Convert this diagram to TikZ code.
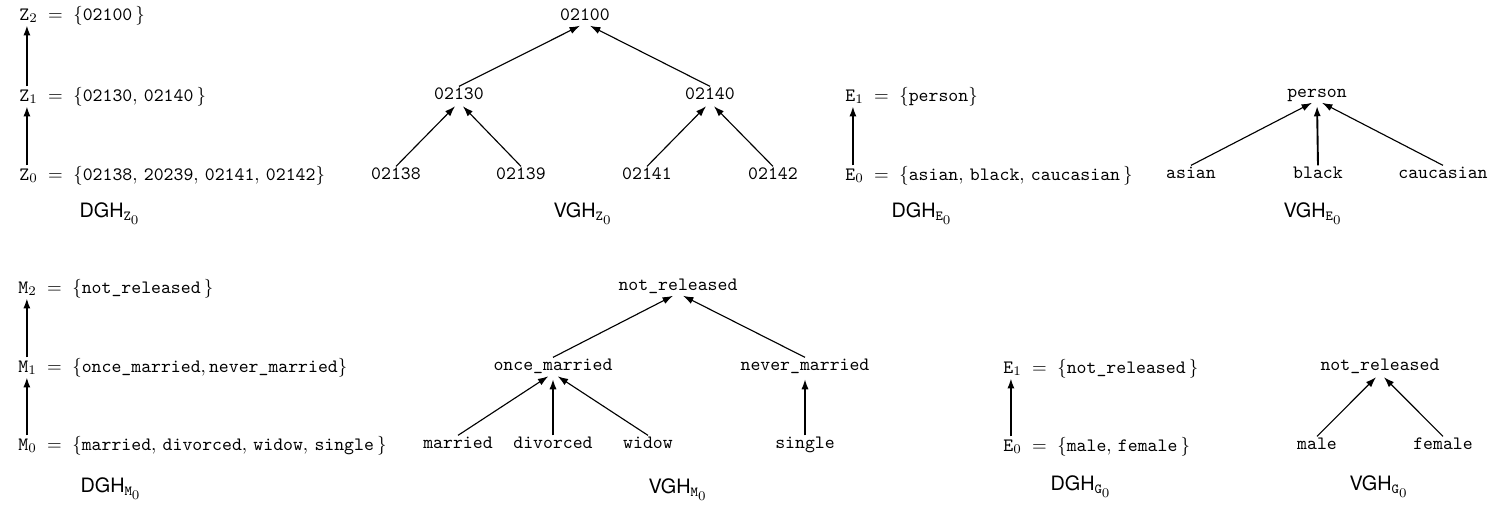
\documentclass[tikz,border=0pt]{standalone}
\usepackage{fontspec}
\setsansfont{TeX Gyre Heros}
\usetikzlibrary{arrows.meta}
\newcommand{\capsub}[2]{\textsf{#1}$_{\mathtt{#2}_{\scriptstyle 0}}$}
\begin{document}
\begin{tikzpicture}[x=0.53pt,y=-0.53pt,
  eqn/.style={inner sep=0pt,anchor=base west},
  tnode/.style={inner sep=0pt,text height=6.5pt,text depth=1.5pt,anchor=base,font=\ttfamily},
  captxt/.style={inner sep=0pt,anchor=base,font=\fontsize{10.5}{12}\selectfont},
  varrow/.style={-{Latex[length=5.5pt,width=3.8pt]},line width=1pt},
  tarrow/.style={-{Latex[length=5.5pt,width=3.8pt]},line width=0.6pt,shorten >=3pt},
  tvarrow/.style={tarrow,line width=1pt},
]
\useasboundingbox (0,0) rectangle (1496,512);

% ---------- DGH Z0 ----------
\node[eqn] (z2) at (19,20)  {$\mathtt{Z}_2\;=\;\{\texttt{02100}\,\}$};
\node[eqn] (z1) at (19,101) {$\mathtt{Z}_1\;=\;\{\texttt{02130},\,\texttt{02140}\,\}$};
\node[eqn] (z0) at (19,180) {$\mathtt{Z}_0\;=\;\{\texttt{02138},\,\texttt{20239},\,\texttt{02141},\,\texttt{02142}\}$};
\node[captxt] (dghz) at (110,217) {\capsub{DGH}{Z}};
\draw[varrow] ([xshift=4.2pt]z0.north west) -- ([xshift=4.2pt]z1.south west);
\draw[varrow] ([xshift=4.2pt]z1.north west) -- ([xshift=4.2pt]z2.south west);

% ---------- VGH Z0 ----------
\node[tnode] (r)    at (585,20)  {02100};
\node[tnode] (a130) at (459,99)  {02130};
\node[tnode] (a140) at (710,99)  {02140};
\node[tnode] (a138) at (396,179) {02138};
\node[tnode] (a139) at (521,179) {02139};
\node[tnode] (a141) at (647,179) {02141};
\node[tnode] (a142) at (773,179) {02142};
\node[captxt] (vghz) at (583,217) {\capsub{VGH}{Z}};
\draw[tarrow] (a130.north) -- (r.south);
\draw[tarrow] (a140.north) -- (r.south);
\draw[tarrow] (a138.north) -- (a130.south);
\draw[tarrow] (a139.north) -- (a130.south);
\draw[tarrow] (a141.north) -- (a140.south);
\draw[tarrow] (a142.north) -- (a140.south);

% ---------- DGH E0 ----------
\node[eqn] (e1) at (845,101) {$\mathtt{E}_1\;=\;\{\texttt{person}\}$};
\node[eqn] (e0) at (845,180) {$\mathtt{E}_0\;=\;\{\texttt{asian},\,\texttt{black},\,\texttt{caucasian}\,\}$};
\node[captxt] (dghe) at (922,217) {\capsub{DGH}{E}};
\draw[varrow] ([xshift=4.2pt]e0.north west) -- ([xshift=4.2pt]e1.south west);

% ---------- VGH E0 ----------
\node[tnode] (person) at (1317,97)  {person};
\node[tnode] (asian)  at (1191,178) {asian};
\node[tnode] (black)  at (1318,178) {black};
\node[tnode] (cauc)   at (1443,178) {caucasian};
\node[captxt] (vghe) at (1313,217) {\capsub{VGH}{E}};
\draw[tarrow]  (asian.north) -- (person.south);
\draw[tvarrow] (black.north) -- (person.south);
\draw[tarrow]  (cauc.north)  -- (person.south);

% ---------- DGH M0 ----------
\node[eqn] (m2) at (18,293) {$\mathtt{M}_2\;=\;\{\texttt{not\_released}\,\}$};
\node[eqn] (m1) at (18,372) {$\mathtt{M}_1\;=\;\{\texttt{once\_married}, \texttt{never\_married}\}$};
\node[eqn] (m0) at (18,450) {$\mathtt{M}_0\;=\;\{\texttt{married},\,\texttt{divorced},\,\texttt{widow},\,\texttt{single}\,\}$};
\node[captxt] (dghm) at (111,492) {\capsub{DGH}{M}};
\draw[varrow] ([xshift=4.7pt]m0.north west) -- ([xshift=4.7pt]m1.south west);
\draw[varrow] ([xshift=4.7pt]m1.north west) -- ([xshift=4.7pt]m2.south west);

% ---------- VGH M0 ----------
\node[tnode] (nr)     at (678,290) {not\_released};
\node[tnode] (once)   at (553,370) {once\_married};
\node[tnode] (never)  at (805,370) {never\_married};
\node[tnode] (mar)    at (458,448) {married};
\node[tnode] (div)    at (553,448) {divorced};
\node[tnode] (wid)    at (648,448) {widow};
\node[tnode] (sing)   at (805,448) {single};
\node[captxt] (vghm) at (678,493) {\capsub{VGH}{M}};
\draw[tarrow]  (once.north)  -- (nr.south);
\draw[tarrow]  (never.north) -- (nr.south);
\draw[tarrow]  (mar.north)   -- (once.south);
\draw[tvarrow] (div.north)   -- (once.south);
\draw[tarrow]  (wid.north)   -- (once.south);
\draw[tvarrow] (sing.north)  -- (never.south);

% ---------- DGH G0 ----------
\node[eqn] (g1) at (1003,373) {$\mathtt{E}_1\;=\;\{\texttt{not\_released}\,\}$};
\node[eqn] (g0) at (1003,451) {$\mathtt{E}_0\;=\;\{\texttt{male},\,\texttt{female}\,\}$};
\node[captxt] (dghg) at (1081,490) {\capsub{DGH}{G}};
\draw[varrow] ([xshift=4.2pt]g0.north west) -- ([xshift=4.2pt]g1.south west);

% ---------- VGH G0 ----------
\node[tnode] (gnr)  at (1380,370) {not\_released};
\node[tnode] (male) at (1317,449) {male};
\node[tnode] (fem)  at (1443,449) {female};
\node[captxt] (vghg) at (1379,490) {\capsub{VGH}{G}};
\draw[tarrow] (male.north) -- (gnr.south);
\draw[tarrow] (fem.north)  -- (gnr.south);
\end{tikzpicture}
\end{document}
